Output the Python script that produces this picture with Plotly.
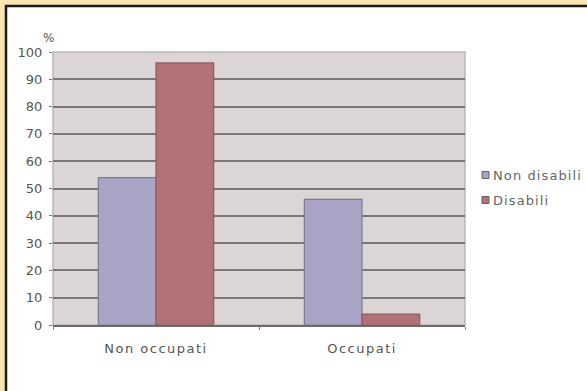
import plotly.graph_objects as go

categories = ["Non occupati", "Occupati"]
non_disabili = [54, 46]
disabili = [96, 4]
series_names = ["Non disabili", "Disabili"]
series_colors = ["#A9A4C6", "#B27275"]
y_ticks = [0, 10, 20, 30, 40, 50, 60, 70, 80, 90, 100]

W, H = 587, 391
L, R, T, B = 53, 122, 52, 66
pw, ph = W - L - R, H - T - B
FONT = "DejaVu Sans, Arial, sans-serif"


def px(x):
    return (x - L) / pw


def py(y):
    return 1 - (y - T) / ph


def spaced(text, sp):
    return f'<span style="letter-spacing:{sp}px">{text}</span>'


fig = go.Figure()
fig.add_trace(go.Bar(x=categories, y=non_disabili, name=series_names[0],
                     marker=dict(color=series_colors[0], line=dict(color="#7E7A90", width=1.2))))
fig.add_trace(go.Bar(x=categories, y=disabili, name=series_names[1],
                     marker=dict(color=series_colors[1], line=dict(color="#8A5E60", width=1.2))))

shapes = [
    dict(type="rect", xref="paper", yref="paper", x0=px(0), x1=px(W), y0=py(0), y1=py(5),
         fillcolor="#FBE3AE", line=dict(width=0), layer="below"),
    dict(type="rect", xref="paper", yref="paper", x0=px(0), x1=px(5), y0=py(0), y1=py(H),
         fillcolor="#FBE3AE", line=dict(width=0), layer="below"),
    dict(type="line", xref="paper", yref="paper", x0=px(5), x1=px(W), y0=py(6), y1=py(6),
         line=dict(color="#1A1A1A", width=2.5)),
    dict(type="line", xref="paper", yref="paper", x0=px(6), x1=px(6), y0=py(5), y1=py(H),
         line=dict(color="#1A1A1A", width=2.5)),
    dict(type="rect", xref="paper", yref="paper", x0=0, x1=1, y0=0, y1=1,
         line=dict(color="#BDB6B6", width=1.5), layer="below"),
]

annotations = [dict(text="%", xref="paper", yref="paper", x=px(48), y=py(38),
                    showarrow=False, font=dict(size=12, color="#555555", family=FONT),
                    xanchor="center", yanchor="middle")]

legend_rows = [175, 200]
for name, color, yrow in zip(series_names, series_colors, legend_rows):
    shapes.append(dict(type="rect", xref="paper", yref="paper",
                       x0=px(482), x1=px(489), y0=py(yrow - 3.5), y1=py(yrow + 3.5),
                       fillcolor=color, line=dict(color="#666666", width=1)))
    annotations.append(dict(text=spaced(name, 1.1), xref="paper", yref="paper",
                            x=px(491), y=py(yrow),
                            showarrow=False, xanchor="left", yanchor="middle",
                            font=dict(size=13, color="#666666", family=FONT)))

fig.update_layout(
    width=W, height=H,
    margin=dict(l=L, r=R, t=T, b=B),
    paper_bgcolor="white",
    plot_bgcolor="#DCD5D5",
    barmode="group",
    bargap=0.44,
    bargroupgap=0,
    font=dict(family=FONT, color="#555555", size=13),
    showlegend=False,
    shapes=shapes,
    annotations=annotations,
    xaxis=dict(showgrid=False, showline=True, linecolor="#6F6A6A", linewidth=2,
               ticks="outside", ticklen=3, tickcolor="#888888",
               tickson="boundaries",
               tickmode="array", tickvals=categories,
               ticktext=[spaced(c, 1.5) for c in categories],
               tickfont=dict(size=13, color="#555555"),
               ticklabelstandoff=10),
    yaxis=dict(range=[0, 100], tickvals=y_ticks, showgrid=True, gridcolor="#7D7676",
               gridwidth=1.8, zeroline=False, showline=False,
               ticks="outside", ticklen=3, tickcolor="#7D7676",
               tickfont=dict(size=13, color="#555555"), ticklabelstandoff=4),
)

fig.write_html("out.html")
